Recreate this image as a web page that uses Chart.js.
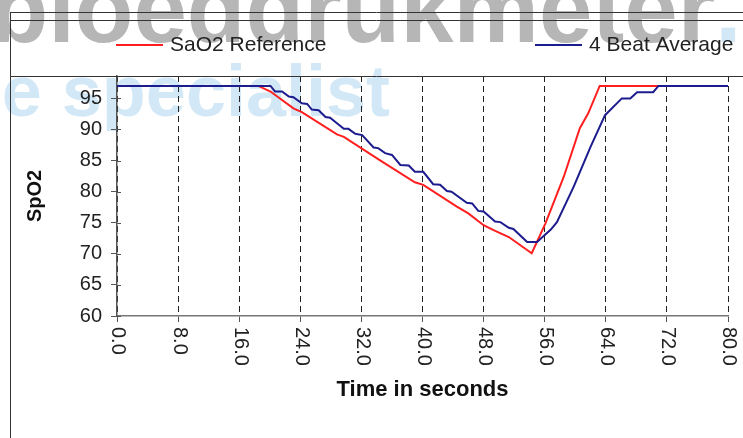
<!DOCTYPE html>
<html>
<head>
<meta charset="utf-8">
<script src="https://cdn.jsdelivr.net/npm/chart.js@4"></script>
<style>
  html, body { margin: 0; padding: 0; background: #fff; }
</style>
</head>
<body>
<canvas id="myChart" width="743" height="438"></canvas>
<script>
// SaO2 reference (time in s, value)
var refTime = [0, 18.5, 20.1, 23.1, 24.2, 28.8, 29.7, 34.5, 39.0, 40.1, 44.5, 46.0, 48.0, 49.3, 51.3, 54.3, 56.1, 58.5, 60.6, 61.7, 63.2, 80];
var refSpo2 = [97, 97, 96.1, 93.4, 92.8, 89.2, 88.8, 85.0, 81.5, 81.1, 77.6, 76.5, 74.6, 73.8, 72.7, 70.1, 74.9, 82.4, 90.2, 92.6, 97, 97];

// 4 beat average
var avgTime = [0, 20.1, 20.7, 21.6, 22.5, 23.1, 24.2, 24.9, 25.5, 26.4, 27.3, 27.9, 28.8, 29.7, 30.3, 31.2, 32.1, 33.6, 34.2, 35.1, 36.0, 37.1, 38.2, 39.0, 40.1, 41.4, 42.3, 43.2, 43.8, 45.8, 46.5, 47.3, 48.0, 49.5, 50.2, 51.3, 51.9, 53.7, 55.0, 56.8, 57.6, 59.8, 62.0, 63.9, 66.1, 67.2, 68.1, 70.2, 70.9, 80];
var avgSpo2 = [97, 97, 96.1, 96.1, 95.3, 95.2, 94.2, 94.1, 93.2, 93.1, 92.0, 91.9, 91.0, 90.1, 90.1, 89.3, 89.1, 87.1, 87.0, 86.2, 85.9, 84.3, 84.2, 83.2, 83.2, 81.2, 81.1, 80.1, 80.0, 78.2, 78.1, 76.9, 76.8, 75.2, 75.1, 74.2, 74.0, 71.9, 71.9, 73.9, 75.1, 80.8, 87.2, 92.3, 95.0, 95.0, 96.0, 96.0, 97, 97];

var xTicks = [0, 8, 16, 24, 32, 40, 48, 56, 64, 72, 80];
var yTicks = [60, 65, 70, 75, 80, 85, 90, 95];

var toPoints = (xs, ys) => xs.map((x, i) => ({ x: x, y: ys[i] }));

var FONT = '"Liberation Sans", Arial, sans-serif';

// background watermark text
var watermark = {
    id: 'watermark',
    beforeDraw: (chart) => {
        var ctx = chart.ctx;
        ctx.save();
        ctx.textBaseline = 'alphabetic';
        ctx.textAlign = 'left';
        ctx.font = 'bold 96px ' + FONT;
        var w = ctx.measureText('bloeddrukmeter').width;
        ctx.fillStyle = '#b6b6b6';
        ctx.fillText('bloeddrukmeter', 715 - w, 42);
        ctx.fillStyle = '#d3e8f7';
        ctx.fillText('.', 715, 42);
        ctx.font = 'bold 72px ' + FONT;
        var w2 = ctx.measureText('e specialist').width;
        ctx.fillText('e specialist', 390 - w2, 116);
        ctx.restore();
    }
};

// frame lines, legend and rotated x labels
var decor = {
    id: 'decor',
    afterDraw: (chart) => {
        var ctx = chart.ctx;
        ctx.save();
        ctx.strokeStyle = '#333';
        ctx.lineWidth = 1;
        ctx.beginPath();
        ctx.moveTo(10, 12.5); ctx.lineTo(743, 12.5);
        ctx.moveTo(10, 20.5); ctx.lineTo(743, 20.5);
        ctx.moveTo(10, 76.5); ctx.lineTo(743, 76.5);
        ctx.moveTo(10.5, 12); ctx.lineTo(10.5, 438);
        ctx.stroke();

        // y ticks cross the axis a little
        var ys = chart.scales.y;
        ctx.strokeStyle = '#555';
        ctx.beginPath();
        yTicks.forEach((v) => {
            var py = Math.round(ys.getPixelForValue(v)) + 0.5;
            ctx.moveTo(ys.right, py); ctx.lineTo(ys.right + 4, py);
        });
        ctx.stroke();

        // legend
        var items = [{ x: 116 }, { x: 535 }];
        ctx.font = '21px ' + FONT;
        ctx.textBaseline = 'middle';
        ctx.textAlign = 'left';
        chart.data.datasets.forEach((ds, i) => {
            var x0 = items[i].x;
            ctx.strokeStyle = ds.borderColor;
            ctx.lineWidth = 2;
            ctx.beginPath();
            ctx.moveTo(x0, 45); ctx.lineTo(x0 + 47, 45);
            ctx.stroke();
            ctx.fillStyle = '#222';
            ctx.fillText(ds.label, x0 + 54, 45);
        });

        // x tick labels, rotated clockwise
        var xs = chart.scales.x;
        ctx.font = '20px ' + FONT;
        ctx.fillStyle = '#222';
        ctx.textAlign = 'left';
        ctx.textBaseline = 'middle';
        xTicks.forEach((t) => {
            var px = xs.getPixelForValue(t);
            ctx.save();
            ctx.translate(px + 1, 327);
            ctx.rotate(Math.PI / 2);
            ctx.fillText(t.toFixed(1), 0, 0);
            ctx.restore();
        });
        ctx.restore();
    }
};

var ctx = document.getElementById('myChart').getContext('2d');
var chart = new Chart(ctx, {
    type: 'line',
    data: {
        datasets: [
            {
                label: 'SaO2 Reference',
                borderColor: '#ff1f1f',
                borderWidth: 2,
                pointRadius: 0,
                tension: 0,
                order: 1,
                data: toPoints(refTime, refSpo2)
            },
            {
                label: '4 Beat Average',
                borderColor: '#1c1c8e',
                borderWidth: 2,
                pointRadius: 0,
                tension: 0,
                order: 0,
                data: toPoints(avgTime, avgSpo2)
            }
        ]
    },
    options: {
        responsive: false,
        animation: false,
        devicePixelRatio: 1,
        layout: { padding: { left: 0, top: 76, right: 15, bottom: 0 } },
        plugins: {
            legend: { display: false },
            tooltip: { enabled: false }
        },
        scales: {
            x: {
                type: 'linear',
                min: 0,
                max: 80,
                afterBuildTicks: (scale) => { scale.ticks = xTicks.map((v) => ({ value: v })); },
                afterFit: (scale) => { scale.height = 122; },
                ticks: { display: false },
                grid: {
                    color: '#222',
                    lineWidth: 1,
                    tickLength: 6,
                    tickColor: '#555',
                    tickBorderDash: []
                },
                border: { display: true, color: '#777', width: 1.5, dash: [6, 4] },
                title: {
                    display: true,
                    text: 'Time in seconds',
                    color: '#111',
                    font: { family: FONT, size: 22, weight: 'bold' },
                    padding: { top: 0, bottom: 35 }
                }
            },
            y: {
                min: 60,
                max: 98.6,
                afterBuildTicks: (scale) => { scale.ticks = yTicks.map((v) => ({ value: v })); },
                afterFit: (scale) => { scale.width = 117; },
                ticks: {
                    color: '#222',
                    font: { family: FONT, size: 20 },
                    padding: 9
                },
                grid: {
                    drawOnChartArea: false,
                    tickLength: 6,
                    tickColor: '#555'
                },
                border: { display: true, color: '#555', width: 1.5 },
                title: {
                    display: true,
                    text: 'SpO2',
                    color: '#111',
                    font: { family: FONT, size: 20, weight: 'bold' },
                    padding: { top: 23, bottom: 0 }
                }
            }
        }
    },
    plugins: [watermark, decor]
});
</script>
</body>
</html>
